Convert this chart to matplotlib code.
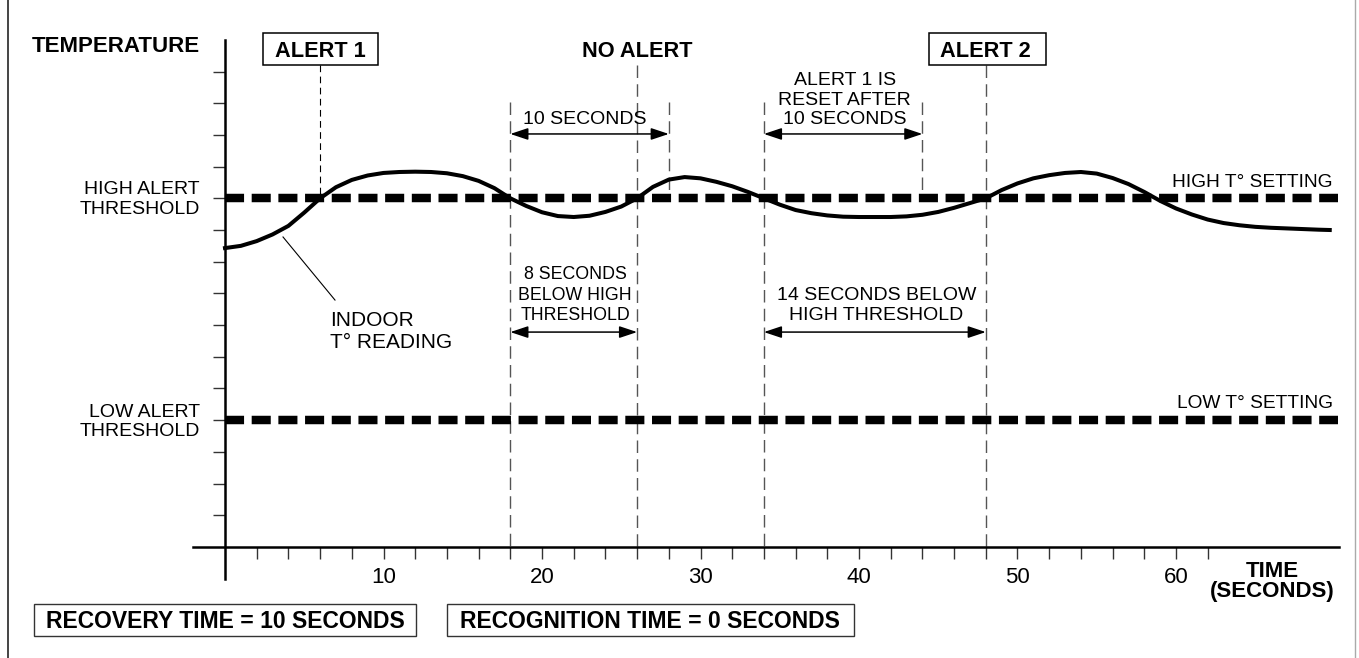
import numpy as np
import matplotlib
matplotlib.use("Agg")
import matplotlib.pyplot as plt
from matplotlib.patches import Rectangle

plt.rcParams['font.family'] = ['Liberation Sans', 'DejaVu Sans']

# ── indoor temperature reading (seconds, arbitrary temperature units) ──
TIME_S = [0, 1, 2, 3, 4, 5, 6, 7, 8, 9, 10, 11, 12, 13, 14, 15, 16, 17, 18,
          19, 20, 21, 22, 23, 24, 25, 26, 27, 28, 29, 30, 31, 32, 33, 34, 35,
          36, 37, 38, 39, 40, 41, 42, 43, 44, 45, 46, 47, 48, 49, 50, 51, 52,
          53, 54, 55, 56, 57, 58, 59, 60, 61, 62, 63, 64, 65, 66, 67, 68, 69,
          69.7]
TEMP = [9.43, 9.50, 9.65, 9.86, 10.13, 10.55, 11.00, 11.35, 11.58, 11.72,
        11.80, 11.83, 11.84, 11.83, 11.79, 11.70, 11.55, 11.32, 11.00, 10.76,
        10.56, 10.44, 10.41, 10.45, 10.57, 10.74, 11.00, 11.36, 11.59, 11.67,
        11.63, 11.52, 11.38, 11.20, 11.00, 10.80, 10.63, 10.53, 10.46, 10.42,
        10.41, 10.41, 10.41, 10.43, 10.48, 10.57, 10.70, 10.85, 11.00, 11.26,
        11.47, 11.63, 11.73, 11.80, 11.83, 11.78, 11.64, 11.45, 11.20, 10.92,
        10.68, 10.49, 10.33, 10.22, 10.15, 10.10, 10.07, 10.05, 10.03, 10.01,
        10.00]

HIGH_SETTING = 11
LOW_SETTING = 4

X_TICKS = list(range(2, 63, 2))
X_LABELS = [str(t) if t % 10 == 0 else '' for t in X_TICKS]
Y_TICKS = list(range(1, 16))

# event times (s)
ALERT1_T = 6
NO_ALERT_T = 26
ALERT2_T = 48
RESET_WIN = (18, 28)        # 10 s recovery window
RESET_WIN2 = (34, 44)       # alert 1 reset window
BELOW_WIN = (18, 26)        # 8 s below high
BELOW_WIN2 = (34, 48)       # 14 s below high

fig = plt.figure(figsize=(13.59, 6.58), dpi=100)
ax = fig.add_axes([0, 0, 1, 1])
ax.set_xlim(-14.196, 71.546)
ax.set_ylim(-3.502, 17.256)

# axes through the origin
for s in ['top', 'right']:
    ax.spines[s].set_visible(False)
ax.spines['left'].set_position(('data', 0))
ax.spines['bottom'].set_position(('data', 0))
ax.spines['left'].set_bounds(-1, 16)
ax.spines['bottom'].set_bounds(-2, 70.3)
ax.spines['left'].set_linewidth(1.8)
ax.spines['bottom'].set_linewidth(1.8)
ax.set_xticks(X_TICKS)
ax.set_xticklabels(X_LABELS)
ax.set_yticks(Y_TICKS)
ax.set_yticklabels([])
ax.tick_params(axis='both', direction='out', length=8.6, width=1.0, color='#333333')
ax.tick_params(axis='x', labelsize=16, pad=5.5)
ax.patch.set_visible(False)

# outer frame
ax.axvline(-13.69, color='#444444', lw=1.4)
ax.axvline(71.29, color='#aaaaaa', lw=1.0)

# vertical event markers
grey_dash = dict(color='#555555', lw=1.0, linestyle=(0, (9, 4.5)), zorder=1)
ax.plot([ALERT1_T, ALERT1_T], [15.2, HIGH_SETTING], color='black', lw=0.8,
        linestyle=(0, (6, 4)), zorder=1)
ax.plot([NO_ALERT_T, NO_ALERT_T], [15.2, 0], **grey_dash)
ax.plot([ALERT2_T, ALERT2_T], [15.2, 0], **grey_dash)
ax.plot([RESET_WIN[0]] * 2, [14.04, 0], **grey_dash)
ax.plot([RESET_WIN[1]] * 2, [14.04, 11.15], **grey_dash)
ax.plot([RESET_WIN2[0]] * 2, [14.04, 0], **grey_dash)
ax.plot([RESET_WIN2[1]] * 2, [14.04, 11.15], **grey_dash)

# thresholds
thr = dict(color='black', lw=6.1, linestyle=(0, (2.25, 0.9)),
           solid_capstyle='butt', dash_capstyle='butt', zorder=2)
ax.plot([0, 70.2], [HIGH_SETTING, HIGH_SETTING], **thr)
ax.plot([0, 70.2], [LOW_SETTING, LOW_SETTING], **thr)

# temperature curve
ax.plot(TIME_S, TEMP, color='black', lw=2.9, solid_joinstyle='round', zorder=3)

# arrows for the time windows
arw = dict(arrowstyle='<|-|>,head_length=0.9,head_width=0.3', lw=1.1,
           color='black', shrinkA=0, shrinkB=0, mutation_scale=12)
for (a, b), y in [(RESET_WIN, 13.03), (RESET_WIN2, 13.03),
                  (BELOW_WIN, 6.78), (BELOW_WIN2, 6.78)]:
    ax.annotate('', xy=(b, y), xytext=(a, y), arrowprops=arw)

# annotations
ax.text(22.7, 13.34, '10 SECONDS', ha='center', va='baseline', fontsize=14)
ax.text(39.1, 13.34, 'ALERT 1 IS\nRESET AFTER\n10 SECONDS', ha='center',
        va='baseline', fontsize=14, linespacing=1.2)
ax.text(22.1, 7.16, '8 SECONDS\nBELOW HIGH\nTHRESHOLD', ha='center',
        va='baseline', fontsize=12.8, linespacing=1.27)
ax.text(41.1, 7.16, '14 SECONDS BELOW\nHIGH THRESHOLD', ha='center',
        va='baseline', fontsize=14, linespacing=1.2)
ax.plot([3.66, 6.94], [9.78, 7.79], color='black', lw=0.8)
ax.text(6.62, 6.28, 'INDOOR\nT° READING', ha='left', va='baseline',
        fontsize=15, linespacing=1.2)
ax.text(69.9, 11.36, 'HIGH T° SETTING', ha='right', va='baseline', fontsize=13.8)
ax.text(69.9, 4.38, 'LOW T° SETTING', ha='right', va='baseline', fontsize=13.8)

ax.text(-1.58, 15.62, 'TEMPERATURE', ha='right', va='baseline', fontsize=16,
        fontweight='bold')
ax.text(-1.58, 10.5, 'HIGH ALERT\nTHRESHOLD', ha='right', va='baseline',
        fontsize=14, linespacing=1.22)
ax.text(-1.58, 3.5, 'LOW ALERT\nTHRESHOLD', ha='right', va='baseline',
        fontsize=14, linespacing=1.17)

# alert boxes
for t, label, (x0, x1) in [(ALERT1_T, 'ALERT 1', (2.4, 9.65)),
                           (ALERT2_T, 'ALERT 2', (44.42, 51.8))]:
    ax.add_patch(Rectangle((x0, 15.2), x1 - x0, 1.01, fill=False,
                           ec='black', lw=1.1))
    ax.text(t, 15.46, label, ha='center', va='baseline', fontsize=15.7,
            fontweight='bold')
ax.text(NO_ALERT_T, 15.46, 'NO ALERT', ha='center', va='baseline',
        fontsize=15.7, fontweight='bold')

# x-axis title
ax.text(66.1, -1.58, 'TIME\n(SECONDS)', ha='center', va='baseline',
        fontsize=16, fontweight='bold', linespacing=0.95)

# settings boxes
for (x0, x1), label in [((-12.05, 12.05), 'RECOVERY TIME = 10 SECONDS'),
                        ((14.0, 39.68), 'RECOGNITION TIME = 0 SECONDS')]:
    ax.add_patch(Rectangle((x0, -2.81), x1 - x0, 1.01, fill=False,
                           ec='#333333', lw=1.0))
    ax.text((x0 + x1) / 2, -2.56, label, ha='center', va='baseline',
            fontsize=16.5, fontweight='bold')

fig.savefig("out.png", dpi=100)
